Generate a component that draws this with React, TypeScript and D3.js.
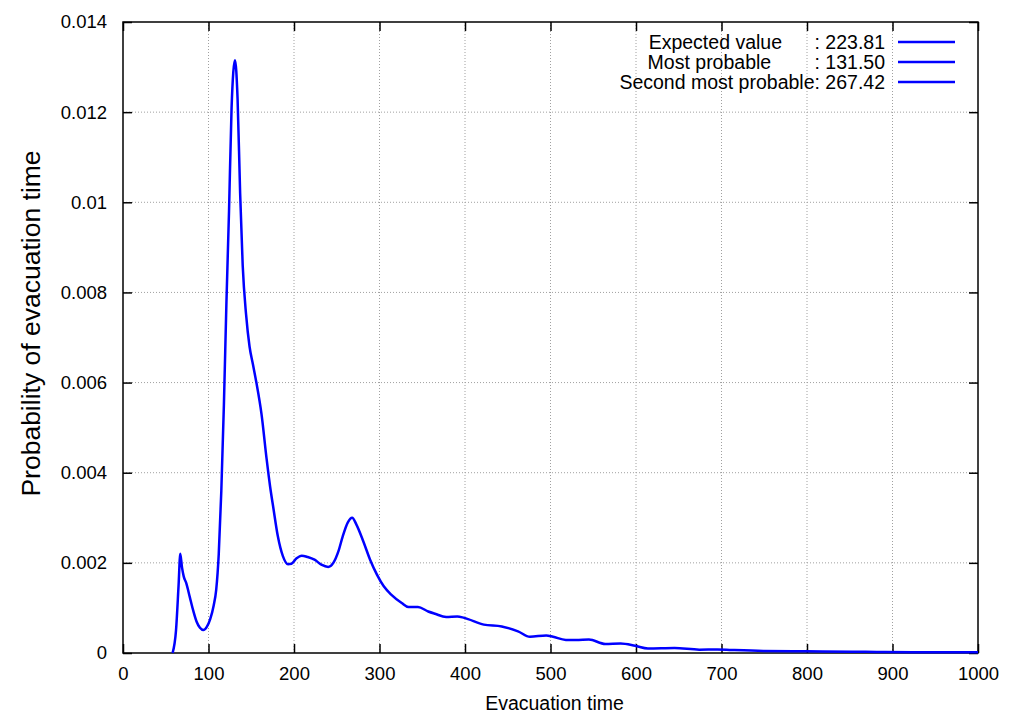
import React, { useRef, useEffect } from 'react';
import * as d3 from 'd3';

// evacuation time (x) and probability (y)
const times = [58, 62, 65, 67, 69, 71, 74, 78, 82, 86, 90, 94, 98, 102, 106, 109, 112, 115, 118, 121, 124, 127, 131, 134, 137, 140, 144, 148, 152, 156, 162, 168, 172, 176, 181, 187, 193, 197, 203, 209, 216, 224, 232, 240, 246, 252, 257, 263, 268, 273, 281, 289, 297, 305, 314, 326, 334, 345, 357, 365, 378, 391, 399, 422, 443, 462, 476, 495, 503, 518, 530, 545, 564, 582, 599, 614, 645, 674, 695, 712, 749, 799, 853, 891, 950, 1000];
const probs = [0, 0.0005, 0.0015, 0.0022, 0.0019, 0.0017, 0.00155, 0.00125, 0.00095, 0.0007, 0.00056, 0.00051, 0.00058, 0.00075, 0.00105, 0.0014, 0.0022, 0.0036, 0.0055, 0.0078, 0.0098, 0.0121, 0.01315, 0.0123, 0.0102, 0.0086, 0.0075, 0.0068, 0.0064, 0.006, 0.0053, 0.0043, 0.0037, 0.0032, 0.0026, 0.00215, 0.00197, 0.00198, 0.0021, 0.00216, 0.00213, 0.00207, 0.00196, 0.00191, 0.002, 0.00226, 0.00259, 0.0029, 0.003, 0.00285, 0.00248, 0.00207, 0.00174, 0.00148, 0.00129, 0.00111, 0.00102, 0.00102, 0.00092, 0.00087, 0.0008, 0.00081, 0.00078, 0.00063, 0.00059, 0.00048, 0.00036, 0.00039, 0.00036, 0.00029, 0.00029, 0.0003, 0.0002, 0.00021, 0.00016, 0.0001, 0.00011, 0.000074, 0.00008, 0.000067, 0.000045, 0.000037, 0.00003, 0.00002, 0.000018, 0.000015];

const xTicks = [0, 100, 200, 300, 400, 500, 600, 700, 800, 900, 1000];
const yTicks = [0, 0.002, 0.004, 0.006, 0.008, 0.01, 0.012, 0.014];
const yTickLabels = ['0', '0.002', '0.004', '0.006', '0.008', '0.01', '0.012', '0.014'];

const legendNames = ['Expected value      ', 'Most probable        ', 'Second most probable'];
const legendValues = ['223.81', '131.50', '267.42'];

const W = 1024, H = 717;
const margin = { top: 22, right: 46, bottom: 64, left: 123 };
const FONT = '"Liberation Sans", Arial, Helvetica, sans-serif';

const App = () => {
    const svgref = useRef<SVGSVGElement>(null);

    useEffect(() => {
        const svg = d3.select(svgref.current);
        svg.selectAll('*').remove();
        const width = W - margin.left - margin.right;
        const height = H - margin.top - margin.bottom;

        const g = svg.append('g').attr('transform', `translate(${margin.left},${margin.top})`);

        const x = d3.scaleLinear().domain([0, 1000]).range([0, width]);
        const y = d3.scaleLinear().domain([0, 0.014]).range([height, 0]);

        // grid
        g.append('g').selectAll('line').data(xTicks.slice(1, -1)).join('line')
            .attr('x1', d => x(d)).attr('x2', d => x(d)).attr('y1', 0).attr('y2', height)
            .attr('stroke', '#a0a0a0').attr('stroke-width', 1).attr('stroke-dasharray', '1,2');
        g.append('g').selectAll('line').data(yTicks.slice(1, -1)).join('line')
            .attr('x1', 0).attr('x2', width).attr('y1', d => y(d)).attr('y2', d => y(d))
            .attr('stroke', '#a0a0a0').attr('stroke-width', 1).attr('stroke-dasharray', '1,2');

        // axes with inward ticks on all sides
        const styleAxis = (sel: any) => {
            sel.select('.domain').remove();
            sel.selectAll('line').attr('stroke', '#000').attr('stroke-width', 1.5);
            sel.selectAll('text').attr('font-family', FONT).attr('font-size', 18.5).attr('fill', '#000');
        };
        g.append('g').attr('transform', `translate(0,${height})`)
            .call(d3.axisBottom(x).tickValues(xTicks).tickSizeInner(-9).tickSizeOuter(0).tickPadding(14).tickFormat(d3.format('d')))
            .call(styleAxis);
        g.append('g')
            .call(d3.axisTop(x).tickValues(xTicks).tickSizeInner(-9).tickSizeOuter(0).tickFormat(() => ''))
            .call(styleAxis);
        g.append('g')
            .call(d3.axisLeft(y).tickValues(yTicks).tickSizeInner(-9).tickSizeOuter(0).tickPadding(16)
                .tickFormat((d, i) => yTickLabels[i]))
            .call(styleAxis);
        g.append('g').attr('transform', `translate(${width},0)`)
            .call(d3.axisRight(y).tickValues(yTicks).tickSizeInner(-9).tickSizeOuter(0).tickFormat(() => ''))
            .call(styleAxis);

        // frame
        g.append('rect').attr('width', width).attr('height', height)
            .attr('fill', 'none').attr('stroke', '#000').attr('stroke-width', 1.5);

        // curve
        const data = times.map((t, i) => [t, probs[i]] as [number, number]);
        const line = d3.line<[number, number]>().x(d => x(d[0])).y(d => y(d[1])).curve(d3.curveMonotoneX);
        g.append('path').datum(data).attr('d', line)
            .attr('fill', 'none').attr('stroke', '#0000ff').attr('stroke-width', 2.5)
            .attr('stroke-linejoin', 'round');

        // axis titles
        g.append('text').attr('x', width / 2 + 4).attr('y', height + 57)
            .attr('text-anchor', 'middle').attr('font-family', FONT).attr('font-size', 19.5)
            .text('Evacuation time');
        g.append('text').attr('transform', `translate(${-83},${height / 2 - 14}) rotate(-90)`)
            .attr('text-anchor', 'middle').attr('font-family', FONT).attr('font-size', 26.5)
            .text('Probability of evacuation time');

        // legend
        const leg = g.append('g').attr('transform', `translate(${width - 80},0)`);
        legendNames.forEach((name, i) => {
            const yy = 20 + i * 20;
            leg.append('text').attr('x', -13).attr('y', yy + 6.5)
                .attr('text-anchor', 'end').attr('font-family', FONT).attr('font-size', 19.5)
                .attr('xml:space', 'preserve').style('white-space', 'pre')
                .text(`${name}: ${legendValues[i]}`);
            leg.append('line').attr('x1', 0).attr('x2', 57).attr('y1', yy).attr('y2', yy)
                .attr('stroke', '#0000ff').attr('stroke-width', 2.5);
        });
    }, []);

    return (
        <div style={{ position: 'absolute', left: 0, top: 0 }}>
            <svg ref={svgref} width={W} height={H} style={{ display: 'block', background: '#fff' }}></svg>
        </div>
    );
};

export default App;
